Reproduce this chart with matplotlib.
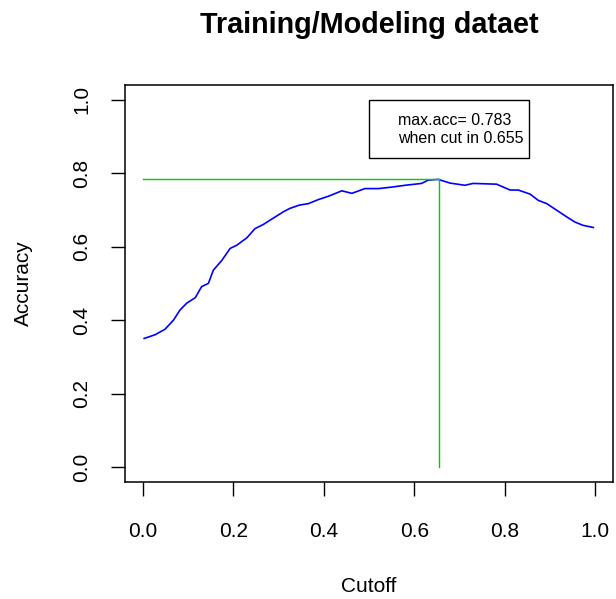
import matplotlib
matplotlib.use("Agg")
import matplotlib.pyplot as plt
from matplotlib.patches import Rectangle

plt.rcParams['font.family'] = ['Liberation Sans', 'DejaVu Sans']

title = "Training/Modeling dataet"
xlabel = "Cutoff"
ylabel = "Accuracy"

cutoff = [0.003, 0.027, 0.049, 0.068, 0.082, 0.097, 0.116, 0.130, 0.145, 0.156,
          0.175, 0.193, 0.208, 0.230, 0.248, 0.266, 0.289, 0.311, 0.325, 0.346,
          0.366, 0.388, 0.410, 0.440, 0.462, 0.491, 0.521, 0.550, 0.580, 0.616,
          0.631, 0.653, 0.679, 0.712, 0.730, 0.782, 0.812, 0.830, 0.856, 0.874,
          0.893, 0.915, 0.937, 0.955, 0.973, 0.996]
accuracy = [0.350, 0.360, 0.375, 0.400, 0.427, 0.446, 0.461, 0.491, 0.500, 0.536,
            0.563, 0.595, 0.604, 0.624, 0.649, 0.660, 0.678, 0.695, 0.704, 0.713,
            0.717, 0.728, 0.737, 0.752, 0.745, 0.758, 0.758, 0.762, 0.767, 0.772,
            0.781, 0.783, 0.773, 0.767, 0.772, 0.770, 0.754, 0.754, 0.743, 0.726,
            0.717, 0.699, 0.681, 0.667, 0.658, 0.652]

max_acc = 0.783
best_cut = 0.655
legend_lines = ["max.acc= 0.783", "when cut in 0.655"]
ticks = [0.0, 0.2, 0.4, 0.6, 0.8, 1.0]
tick_labels = ["0.0", "0.2", "0.4", "0.6", "0.8", "1.0"]

W, H = 616, 599
fig = plt.figure(figsize=(W / 100, H / 100), dpi=100)
L, R, T, B = 124.7, 613.3, 85.0, 481.7
ax = fig.add_axes([L / W, 1 - B / H, (R - L) / W, (B - T) / H])

ax.plot(cutoff, accuracy, color='#0000FF', lw=1.2)
ax.plot([0, best_cut], [max_acc, max_acc], color='#00CD00', lw=1.0)
ax.plot([best_cut, best_cut], [0, max_acc], color='#00CD00', lw=1.0)

ax.set_xlim(-0.04, 1.04)
ax.set_ylim(-0.04, 1.04)
ax.set_xticks(ticks)
ax.set_xticklabels(tick_labels)
ax.set_yticks(ticks)
ax.set_yticklabels(tick_labels, rotation=90, va='center')
ax.tick_params(direction='out', length=10, width=1.0, labelsize=15)
ax.tick_params(axis='x', pad=19)
ax.tick_params(axis='y', pad=14)
for s in ax.spines.values():
    s.set_linewidth(1.1)

# legend box
ax.add_patch(Rectangle((0.5, 0.842), 0.354, 0.158, fill=False, edgecolor='black', lw=1.0))
ax.text(0.565, 0.944, legend_lines[0], fontsize=11.5, va='center', ha='left')
ax.text(0.565, 0.894, legend_lines[1], fontsize=11.5, va='center', ha='left')

fig.text(369 / W, 1 - 33 / H, title, fontsize=20.7, fontweight='bold', ha='center', va='baseline')
fig.text(369 / W, 1 - 586 / H, xlabel, fontsize=15, ha='center', va='center')
fig.text(23 / W, 1 - 283 / H, ylabel, fontsize=15, ha='center', va='center', rotation=90)

fig.savefig("out.png", dpi=100)
